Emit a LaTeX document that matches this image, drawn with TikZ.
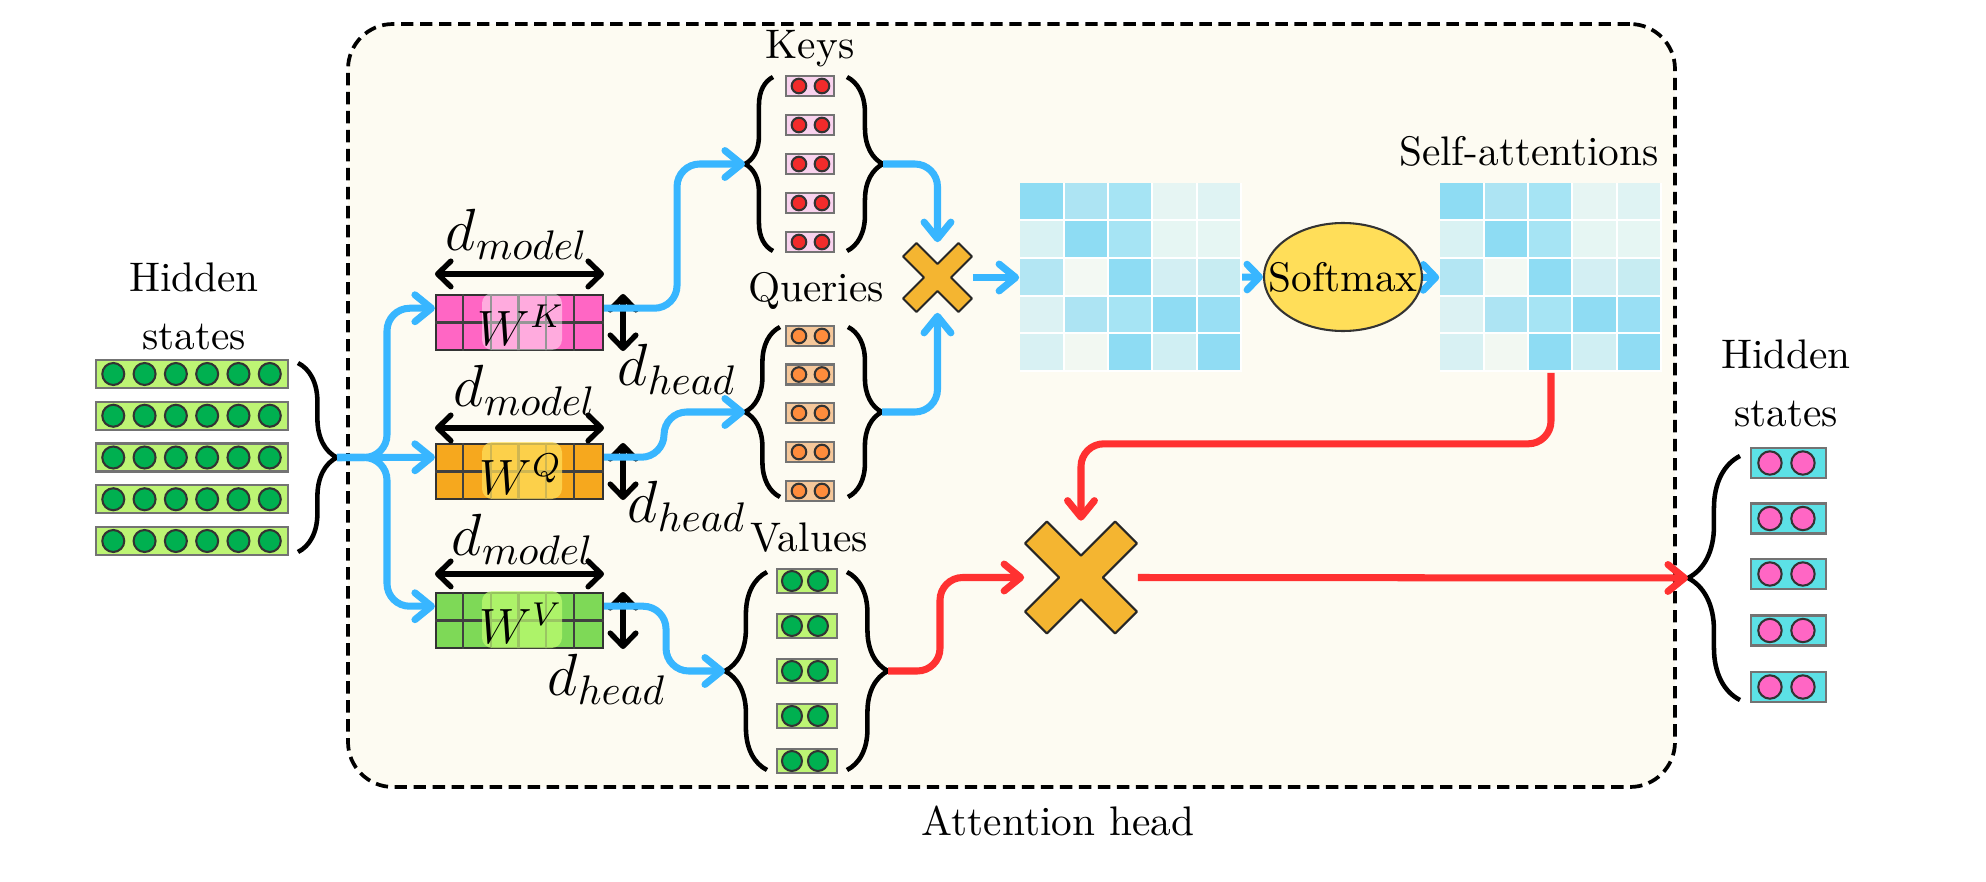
\documentclass[tikz,border=0pt]{standalone}
\usetikzlibrary{arrows.meta,shapes.geometric,decorations.pathreplacing,calc}
\pgfdeclarelayer{bgback}
\pgfdeclarelayer{bgarrow}
\pgfsetlayers{bgback,bgarrow,main}
\newcommand{\pxu}{0.242pt}
\definecolor{cream}{HTML}{FDFBF2}
\definecolor{flowblue}{HTML}{38B6FF}
\definecolor{flowred}{HTML}{FF3131}
\definecolor{hgreenbox}{HTML}{BDF474}
\definecolor{hgreendot}{HTML}{00B050}
\definecolor{keybox}{HTML}{F9D2EE}
\definecolor{keydot}{HTML}{F22B2B}
\definecolor{qbox}{HTML}{F5C79A}
\definecolor{qdot}{HTML}{FF8C3C}
\definecolor{outbox}{HTML}{5CE1E6}
\definecolor{outdot}{HTML}{FF66C4}
\definecolor{wkfill}{HTML}{FF66C4}
\definecolor{wqfill}{HTML}{F6A81E}
\definecolor{wqhl}{HTML}{FFDE59}
\definecolor{wvfill}{HTML}{7ED957}
\definecolor{wvhl}{HTML}{C1FF72}
\definecolor{crossfill}{HTML}{F4B531}
\definecolor{softfill}{HTML}{FFDE59}
\begin{document}
\begin{tikzpicture}[x=0.242pt,y=-0.242pt,
  blueflow/.style={draw=flowblue,line width=1.7pt,rounded corners=5.5pt,-{Straight Barb[length=4pt,width=6.5pt,round]}},
  shortflow/.style={draw=flowblue,line width=1.7pt,-{Straight Barb[length=3pt,width=6.2pt,round]}},
  redflow/.style={draw=flowred,line width=1.7pt,rounded corners=5.5pt,-{Straight Barb[length=4pt,width=6.5pt,round]}},
  dimarrow/.style={line width=1.3pt,{Straight Barb[length=3.2pt,width=6.2pt,round]}-{Straight Barb[length=3.2pt,width=6.2pt,round]}},
  bracedec/.style={decorate,decoration={brace,amplitude=#1},line width=1.1pt},
  vecbox/.style={rectangle,draw=black!55,line width=0.5pt,inner sep=0},
  vdot/.style={circle,draw=black!80,line width=0.5pt,inner sep=0},
  wmat/.style={rectangle,draw=black!80,line width=0.5pt,inner sep=0,minimum width=167*\pxu,minimum height=55*\pxu},
  gridln/.style={draw=black!75,line width=0.5pt},
  xcross/.style={draw=black!85,fill=crossfill,line width=0.5pt,line join=round},
  lbl/.style={inner sep=0,font=\normalsize}
]
\useasboundingbox (0,0) rectangle (1986,882);

% attention head box
\begin{pgfonlayer}{bgback}
\node[draw=black,dash pattern=on 3pt off 1.6pt,line width=0.9pt,fill=cream,rounded corners=10.9pt,
  minimum width=1327*\pxu,minimum height=763*\pxu,inner sep=0] (head) at (1011.5,405.5) {};
\end{pgfonlayer}
\node[lbl,anchor=base] (headlbl) at (1058,835) {Attention head};

% left hidden states
\node[lbl,align=center] (hsl) at (194,306.5) {Hidden\\[2pt]states};
\foreach \i/\yy in {1/374,2/415.75,3/457.5,4/499.25,5/541}{
  \node[vecbox,fill=hgreenbox,minimum width=192*\pxu,minimum height=28*\pxu] (hs\i) at (192,\yy) {};
  \foreach \j in {0,...,5}
    \node[vdot,fill=hgreendot,minimum size=22*\pxu] (hs\i-\j) at ($(hs\i.west)+(18.3+31.3*\j,0)$) {};
}
\draw[bracedec=9.4pt] (298,363) -- (298,552);
\coordinate (hsin) at (337,457.5);

% weight matrices
\foreach \w/\yy/\fc/\hc/\hop/\ss in {wk/322.5/wkfill/white/0.45/K,wq/471.5/wqfill/wqhl/0.75/Q,wv/620.5/wvfill/wvhl/0.7/V}{
  \node[wmat,fill=\fc] (\w) at (519.5,\yy) {};
  \foreach \k in {1,...,5}
    \draw[gridln] ($(\w.north west)+(\k*27.833,0)$) -- ($(\w.south west)+(\k*27.833,0)$);
  \draw[gridln] (\w.west) -- (\w.east);
  \fill[\hc,opacity=\hop,rounded corners=2.5pt] ($(\w.center)+(-37.5,-29.5)$) rectangle ($(\w.center)+(42.5,27.5)$);
  \node[inner sep=0,font=\large] (\w-lbl) at ($(\w.center)+(1.5,3)$) {$W^{\ss}$};
  \coordinate (\w-in) at ($(\w.north west)!0.25!(\w.south west)$);
  \coordinate (\w-out) at ($(\w.north east)!0.25!(\w.south east)$);
}
\foreach \w/\off/\dmx/\dmy/\dhx/\dhy in {wk/20/517/234/677/369,wq/15/525/390/687/506,wv/18/523/539/607/679}{
  \draw[dimarrow] ($(\w.north west)+(0,-\off)$) -- ($(\w.north east)+(0,-\off)$);
  \draw[dimarrow] ($(\w.north east)+(19,0)$) -- ($(\w.south east)+(19,0)$);
  \node[font=\Large,inner sep=0] (\w-dm) at (\dmx,\dmy) {$d_{model}$};
  \node[font=\Large,inner sep=0] (\w-dh) at (\dhx,\dhy) {$d_{head}$};
}

% keys
\node[lbl,anchor=base] (keyslbl) at (810,59) {Keys};
\foreach \i/\yy in {1/86,2/125,3/164,4/203,5/242}{
  \node[vecbox,fill=keybox,minimum width=48*\pxu,minimum height=20*\pxu] (k\i) at (810,\yy) {};
  \foreach \j/\dx in {0/14,1/37}
    \node[vdot,fill=keydot,minimum size=14.6*\pxu] (k\i-\j) at ($(k\i.west)+(\dx,0)$) {};
}
\draw[bracedec=6.8pt] (773,251) -- (773,77);
\draw[bracedec=8.7pt] (847,77) -- (847,251);
\coordinate (kin) at (745,164);
\coordinate (kout) at (883,164);

% queries
\node[lbl,anchor=base] (qlbl) at (816,301) {Queries};
\foreach \i/\yy in {1/336,2/374.5,3/413,4/452,5/491}{
  \node[vecbox,fill=qbox,minimum width=48*\pxu,minimum height=20*\pxu] (q\i) at (810,\yy) {};
  \foreach \j/\dx in {0/14,1/37}
    \node[vdot,fill=qdot,minimum size=14.6*\pxu] (q\i-\j) at ($(q\i.west)+(\dx,0)$) {};
}
\draw[bracedec=8.5pt] (780,497) -- (780,327);
\draw[bracedec=8.2pt] (848,327) -- (848,497);
\coordinate (qin) at (745,412);
\coordinate (qout) at (882,412);

% values
\node[lbl,anchor=base] (vlbl) at (809,551) {Values};
\foreach \i/\yy in {1/581,2/626,3/671,4/716,5/761}{
  \node[vecbox,fill=hgreenbox,minimum width=60*\pxu,minimum height=24*\pxu] (v\i) at (807,\yy) {};
  \foreach \j/\dx in {0/16,1/42}
    \node[vdot,fill=hgreendot,minimum size=20*\pxu] (v\i-\j) at ($(v\i.west)+(\dx,0)$) {};
}
\draw[bracedec=10.2pt] (767,770) -- (767,572);
\draw[bracedec=9.9pt] (847,572) -- (847,770);
\coordinate (vin) at (725,671);
\coordinate (vout) at (888,671);

% crosses
\node[minimum width=69*\pxu,minimum height=69*\pxu,inner sep=0] (xs) at (937.5,277.5) {};
\draw[xcross,shift={(xs.center)},rotate=45,scale=0.616] (63.7,15.5) -- (15.5,15.5) -- (15.5,63.7) -- (-15.5,63.7) -- (-15.5,15.5) -- (-63.7,15.5) -- (-63.7,-15.5) -- (-15.5,-15.5) -- (-15.5,-63.7) -- (15.5,-63.7) -- (15.5,-15.5) -- (63.7,-15.5) -- cycle;
\node[minimum width=112*\pxu,minimum height=112*\pxu,inner sep=0] (xb) at (1081,577.5) {};
\draw[xcross,shift={(xb.center)},rotate=45] (63.7,15.5) -- (15.5,15.5) -- (15.5,63.7) -- (-15.5,63.7) -- (-15.5,15.5) -- (-63.7,15.5) -- (-63.7,-15.5) -- (-15.5,-15.5) -- (-15.5,-63.7) -- (15.5,-63.7) -- (15.5,-15.5) -- (63.7,-15.5) -- cycle;

% attention matrices
\node[minimum width=222*\pxu,minimum height=189*\pxu,inner sep=0,fill=white] (att) at (1131,277.5) {};
\node[minimum width=222*\pxu,minimum height=189*\pxu,inner sep=0,fill=white] (sa) at (1551,277.5) {};
\foreach \m in {att,sa}{
  \foreach \r/\c/\h in {1/1/8EDCF3,1/2/ADE4F3,1/3/A6E4F4,1/4/E6F5F3,1/5/DFF3F3,
                        2/1/D9F2F3,2/2/8EDCF3,2/3/A6E4F4,2/4/E6F6F3,2/5/E6F6F3,
                        3/1/B3E6F3,3/2/F3F9F3,3/3/8EDCF3,3/4/D3EFF3,3/5/C7ECF2,
                        4/1/DCF2F3,4/2/ADE4F3,4/3/A6E4F4,4/4/8FDCF3,4/5/99DFF4,
                        5/1/D8F1F3,5/2/F2F8F2,5/3/8EDCF3,5/4/D0EFF3,5/5/90DCF3}{
    \edef\tmpcelldef{\noexpand\definecolor{cellc}{HTML}{\h}}\tmpcelldef
    \fill[cellc] ($(\m.north west)+(\c*44.4-43.4,\r*37.8-36.8)$) rectangle ++(42.4,35.8);
  }
}
\node[lbl,anchor=base] (salbl) at (1529,166) {Self-attentions};
\node[ellipse,draw=black!80,line width=0.5pt,fill=softfill,minimum width=158*\pxu,minimum height=108*\pxu,inner sep=0] (soft) at (1343,277) {};
\node[lbl] (softlbl) at (soft.center) {Softmax};

% right hidden states
\node[lbl,align=center] (hsr) at (1786,383.5) {Hidden\\[2pt]states};
\foreach \i/\yy in {1/463,2/518.5,3/574,4/630.5,5/687}{
  \node[vecbox,fill=outbox,minimum width=75*\pxu,minimum height=30*\pxu] (o\i) at (1788.5,\yy) {};
  \foreach \j/\dx in {0/20,1/53}
    \node[vdot,fill=outdot,minimum size=23.4*\pxu] (o\i-\j) at ($(o\i.west)+(\dx,0)$) {};
}
\draw[bracedec=12.6pt] (1740,700) -- (1740,456);
\coordinate (oin) at (1688,578);

% blue connectors
\draw[blueflow] (hsin) -- ++(50,0) |- (wk-in);
\draw[blueflow] (hsin) -- (wq-in);
\draw[blueflow] (hsin) -- ++(50,0) |- (wv-in);
\draw[blueflow] (wk-out) -- ++(73,0) |- (kin);
\draw[blueflow] (wq-out) -- ++(60,0) |- (qin);
\draw[blueflow] (wv-out) -- ++(62,0) |- (vin);
\draw[blueflow] (kout) -| (xs.north);
\draw[blueflow] (qout) -| (xs.south);
\draw[blueflow] (xs.east) -- (att.west);
\begin{pgfonlayer}{bgarrow}
\draw[shortflow] (att.center) -- (soft.west);
\draw[shortflow] (soft.center) -- (sa.west);
\end{pgfonlayer}

% red connectors
\draw[redflow] (sa.south) -- ++(0,71) -| (xb.north);
\draw[redflow] (vout) -- ++(52,0) |- (xb.west);
\draw[redflow] (xb.east) -- (oin);
\end{tikzpicture}
\end{document}
